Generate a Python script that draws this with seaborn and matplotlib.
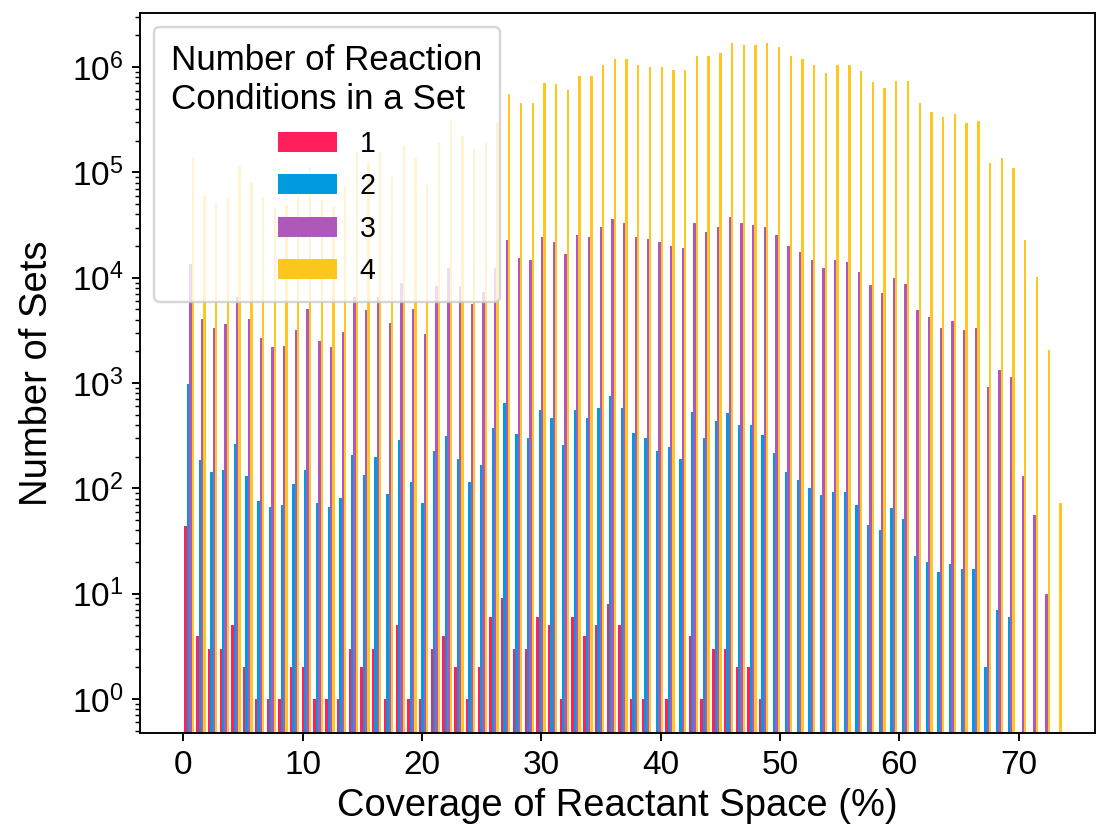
import numpy as np
import pandas as pd
import matplotlib
matplotlib.use("Agg")
import matplotlib.pyplot as plt
import seaborn as sns

# ---- data ----
# histogram bins of coverage (%): 75 equal bins between 0 and 73.7
bin_edges = np.linspace(0, 73.7, 76)

series_labels = ["1", "2", "3", "4"]
series_colors = ["#FF1F5B", "#009ADE", "#AF58BA", "#FFC61E"]

# counts per bin, starting from the first bin
counts_1 = [44, 4, 3, 3, 5, 2, 1, 1, 1, 2, 2, 1, 1, 1, 3, 2, 3, 1, 5, 1,
            1, 3, 4, 2, 1, 2, 6, 9, 3, 3, 6, 5, 1, 6, 4, 5, 8, 5, 1, 1,
            0, 1, 0, 4, 1, 3, 3, 2, 2, 1]
counts_2 = [970, 184, 143, 150, 261, 132, 76, 66, 69, 111, 150, 72, 66, 81, 207,
            135, 197, 88, 289, 114, 72, 224, 313, 189, 114, 166, 372, 649, 326, 304,
            557, 470, 256, 557, 470, 574, 755, 574, 333, 304, 224, 248, 189, 530, 304,
            433, 519, 399, 399, 320, 218, 143, 121, 101, 86, 92, 92, 69, 45, 40,
            65, 51, 23, 20, 16, 19, 17, 17, 2, 7, 6]
counts_3 = [13400, 4100, 3300, 3600, 6500, 4100, 2670, 2180, 2270, 3200,
            5100, 2500, 2180, 3040, 6600, 4900, 6600, 3700, 9000, 5100,
            2950, 8300, 12400, 8300, 5600, 7300, 12400, 22700, 15300, 14900,
            24600, 21800, 16800, 25600, 24600, 30100, 36100, 33300, 24600, 23600,
            21800, 20100, 19100, 33300, 27200, 30100, 37600, 33300, 31700, 30100,
            25600, 20100, 17500, 14900, 12500, 14900, 14100, 11400, 8500, 7200,
            9900, 8800, 4900, 4200, 3300, 3900, 3200, 3300, 923, 1340,
            1130, 132, 56, 10]
counts_4 = [140000, 60000, 51000, 57500, 114000, 81000, 58000, 45000, 49000, 60000,
            110000, 55000, 47000, 75000, 155000, 124000, 156000, 92000, 182000, 137000,
            76000, 189000, 314000, 223000, 168000, 189000, 292000, 552000, 452000, 452000,
            711000, 690000, 611000, 820000, 820000, 1050000, 1200000, 1200000, 1050000, 1010000,
            1010000, 935000, 935000, 1290000, 1290000, 1370000, 1680000, 1610000, 1610000, 1680000,
            1550000, 1290000, 1200000, 1050000, 889000, 1050000, 1050000, 916000, 719000, 637000,
            741000, 741000, 452000, 377000, 334000, 362000, 292000, 308000, 124000, 136000,
            110000, 22700, 10100, 2070, 72]

x_ticks = [0, 10, 20, 30, 40, 50, 60, 70]

# ---- long table ----
bin_centers = (bin_edges[:-1] + bin_edges[1:]) / 2
rows = []
for lab, cnts in zip(series_labels, [counts_1, counts_2, counts_3, counts_4]):
    for c, v in zip(bin_centers, cnts):
        if v > 0:
            rows.append({"coverage": round(float(c), 4), "count": v, "n": lab})
df = pd.DataFrame(rows)

plt.rcParams["font.family"] = ["Liberation Sans", "DejaVu Sans"]

W, H, DPI = 1098, 834, 171.56
fig = plt.figure(figsize=(W / DPI, H / DPI), dpi=DPI)
ax = fig.add_axes([140 / W, 1 - 733 / H, 955 / W, 720 / H])
ax.set_yscale("log")

sns.barplot(data=df, x="coverage", y="count", hue="n", hue_order=series_labels,
            palette=series_colors, native_scale=True, errorbar=None,
            saturation=1, linewidth=0, width=0.8, dodge=True, ax=ax)

ax.set_xlim(-3.63, 76.4)
ax.set_ylim(0.475, 3.27e6)
ax.set_xticks(x_ticks)
ax.set_xticklabels([str(t) for t in x_ticks])
ax.tick_params(axis="both", which="major", labelsize=14)
ax.set_xlabel("Coverage of Reactant Space (%)", fontsize=16, labelpad=3)
ax.set_ylabel("Number of Sets", fontsize=16, labelpad=7)

old = ax.get_legend()
handles = old.legend_handles
labels = [t.get_text() for t in old.get_texts()]
old.remove()
ax.legend(handles, labels, title="Number of Reaction\nConditions in a Set",
          loc="upper left", fontsize=12, title_fontsize=14.7, borderpad=0.6,
          handlelength=2.05)

fig.savefig("out.png", dpi=DPI)
